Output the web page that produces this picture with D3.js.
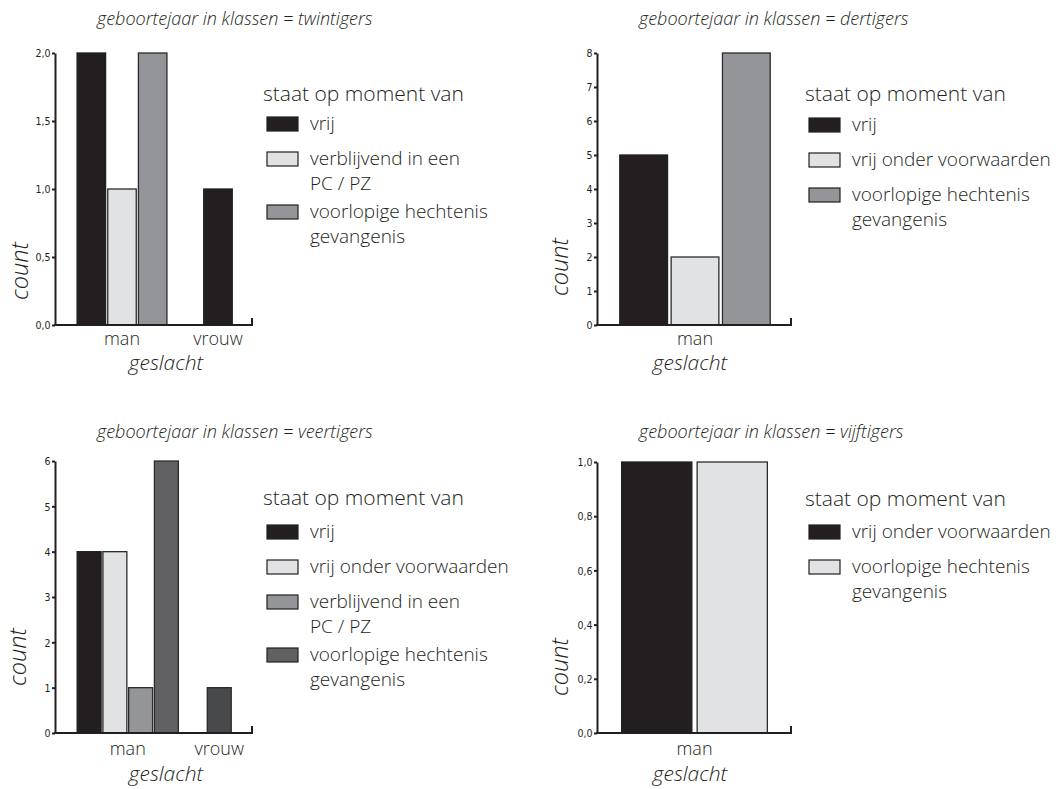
<!DOCTYPE html>
<html><head><meta charset="utf-8">
<script src="https://cdn.jsdelivr.net/npm/d3@7/dist/d3.min.js"></script>
<style>
body{margin:0;background:#fff;}
svg{display:block;}
.t{font-family:"Open Sans",sans-serif;font-weight:300;fill:#231f20;}
.tick text{font-family:"Liberation Sans Narrow","DejaVu Sans Condensed",sans-serif;font-stretch:condensed;fill:#231f20;}
</style></head><body>
<svg id="c" width="1056" height="789"></svg>
<script>
// ---- data ----
const genders = ["man", "vrouw"];
const legendTitle = "staat op moment van";
const titles = ["geboortejaar in klassen = twintigers", "geboortejaar in klassen = dertigers",
                "geboortejaar in klassen = veertigers", "geboortejaar in klassen = vijftigers"];
const cats1 = ["vrij", "verblijvend in een\nPC / PZ", "voorlopige hechtenis\ngevangenis"];
const man1 = [2, 1, 2];
const vrouw1 = [1, null, null];
const ticks1 = [0, 0.5, 1, 1.5, 2];
const cats2 = ["vrij", "vrij onder voorwaarden", "voorlopige hechtenis\ngevangenis"];
const man2 = [5, 2, 8];
const ticks2 = [0, 1, 2, 3, 4, 5, 6, 7, 8];
const cats3 = ["vrij", "vrij onder voorwaarden", "verblijvend in een\nPC / PZ", "voorlopige hechtenis\ngevangenis"];
const man3 = [4, 4, 1, 6];
const vrouw3 = [null, null, null, 1];
const ticks3 = [0, 1, 2, 3, 4, 5, 6];
const cats4 = ["vrij onder voorwaarden", "voorlopige hechtenis\ngevangenis"];
const man4 = [1, 1];
const ticks4 = [0, 0.2, 0.4, 0.6, 0.8, 1];

// ---- styles / layout ----
const fills = ["#231f20", "#e1e2e3", "#939598", "#616163"];
const vrouwFill = "#47494b";
const locale = d3.formatLocale({decimal: ",", thousands: ".", grouping: [3], currency: ["€", ""]});

const panels = [
  {title: titles[0], cats: cats1, series: {man: man1, vrouw: vrouw1}, gen: genders, ticks: ticks1, fmt: ".1f",
   ax: 55, yTop: 53, yBot: 325, xEnd: 252, band: [74, 266], groupW: 92,
   lx: 263, lty: 101, liy: 130, tx: 97, ty: 25, cx: 21, cy: 271, xly: 345, xty: 370, xtx: 166},
  {title: titles[1], cats: cats2, series: {man: man2}, gen: ["man"], ticks: ticks2, fmt: "d",
   ax: 597, yTop: 53, yBot: 325, xEnd: 791, band: [618, 772], groupW: 154,
   lx: 805, lty: 101, liy: 131, tx: 639, ty: 25, cx: 561, cy: 267, xly: 345, xty: 370, xtx: 690},
  {title: titles[2], cats: cats3, series: {man: man3, vrouw: vrouw3}, gen: genders, ticks: ticks3, fmt: "d",
   ax: 55, yTop: 461, yBot: 733, xEnd: 252, band: [82, 265], groupW: 103,
   lx: 263, lty: 505, liy: 538, tx: 97, ty: 438, cx: 19, cy: 657, xly: 755, xty: 781, xtx: 166},
  {title: titles[3], cats: cats4, series: {man: man4}, gen: ["man"], ticks: ticks4, fmt: ".1f",
   ax: 597, yTop: 462, yBot: 733, xEnd: 791, band: [619, 770], groupW: 151,
   lx: 805, lty: 506, liy: 538, tx: 639, ty: 438, cx: 561, cy: 667, xly: 755, xty: 781, xtx: 690}
];

const svg = d3.select("#c");

panels.forEach(p => {
  const g = svg.append("g");
  const maxV = p.ticks[p.ticks.length - 1];
  const y = d3.scaleLinear().domain([0, maxV]).range([p.yBot, p.yTop]);
  const x = d3.scaleBand().domain(p.gen).range(p.band).padding(0);
  const slot = p.groupW / p.cats.length;

  // bars
  p.gen.forEach(gn => {
    const vals = p.series[gn];
    const present = p.cats.map((c, i) => i).filter(i => vals[i] != null);
    const cx = x(gn) + x.bandwidth() / 2;
    const sub = d3.scaleBand().domain(present)
      .range([cx - slot * present.length / 2, cx + slot * present.length / 2]).paddingInner(0.07).paddingOuter(0.035);
    g.selectAll(null).data(present).join("rect")
      .attr("x", i => sub(i)).attr("width", sub.bandwidth())
      .attr("y", i => y(vals[i])).attr("height", i => y(0) - y(vals[i]))
      .attr("fill", i => (gn === "vrouw" && i === 3) ? vrouwFill : fills[i])
      .attr("stroke", i => i === 0 ? "#231f20" : "#2b2b2c").attr("stroke-width", 1.3);
  });

  // y axis
  const fmt = locale.format(p.fmt);
  const yAxis = d3.axisLeft(y).tickValues(p.ticks).tickSize(3).tickPadding(1.5).tickSizeOuter(0)
    .tickFormat(d => fmt(d));
  const ya = g.append("g").attr("transform", `translate(${p.ax},0)`).call(yAxis);
  ya.select(".domain").attr("stroke", "#231f20").attr("stroke-width", 2);
  ya.selectAll(".tick line").attr("stroke", "#231f20").attr("stroke-width", 2);
  ya.selectAll(".tick text").attr("font-size", 10.5).attr("dy", "0.35em");

  // x axis (baseline with outer end tick)
  const xLine = d3.scaleLinear().domain([0, 1]).range([p.ax, p.xEnd]);
  const xa = d3.axisBottom(xLine).tickValues([]).tickSizeOuter(-7);
  const xg = g.append("g").attr("transform", `translate(0,${p.yBot})`).call(xa);
  xg.select(".domain").attr("stroke", "#231f20").attr("stroke-width", 2)
    .attr("d", `M${p.ax - 1},0H${p.xEnd}V-7`);

  // category labels
  p.gen.forEach(gn => {
    g.append("text").attr("class", "t").attr("x", x(gn) + x.bandwidth() / 2).attr("y", p.xly)
      .attr("text-anchor", "middle").attr("font-size", 18).text(gn);
  });
  g.append("text").attr("class", "t").attr("x", p.xtx).attr("y", p.xty)
    .attr("text-anchor", "middle").attr("font-size", 21).attr("font-style", "italic").text("geslacht");
  g.append("text").attr("class", "t")
    .attr("transform", `translate(${p.cx + 7},${p.cy}) rotate(-90)`)
    .attr("text-anchor", "middle").attr("font-size", 23.5).attr("font-style", "italic").text("count");

  // title
  g.append("text").attr("class", "t").attr("x", p.tx).attr("y", p.ty)
    .attr("font-size", 18).attr("font-style", "italic").text(p.title);

  // legend
  g.append("text").attr("class", "t").attr("x", p.lx).attr("y", p.lty)
    .attr("font-size", 21).text(legendTitle);
  let by = p.liy;
  p.cats.forEach((c, i) => {
    const lines = c.split("\n");
    g.append("rect").attr("x", p.lx + 4).attr("y", by - 13).attr("width", 31).attr("height", 14)
      .attr("fill", fills[i]).attr("stroke", "#231f20").attr("stroke-width", 1.2);
    const t = g.append("text").attr("class", "t").attr("x", p.lx + 47).attr("y", by).attr("font-size", 19);
    lines.forEach((l, k) => t.append("tspan").attr("x", p.lx + 47).attr("dy", k === 0 ? 0 : 25).text(l));
    by += 35 + (lines.length - 1) * 18;
  });
});
</script>
</body></html>
